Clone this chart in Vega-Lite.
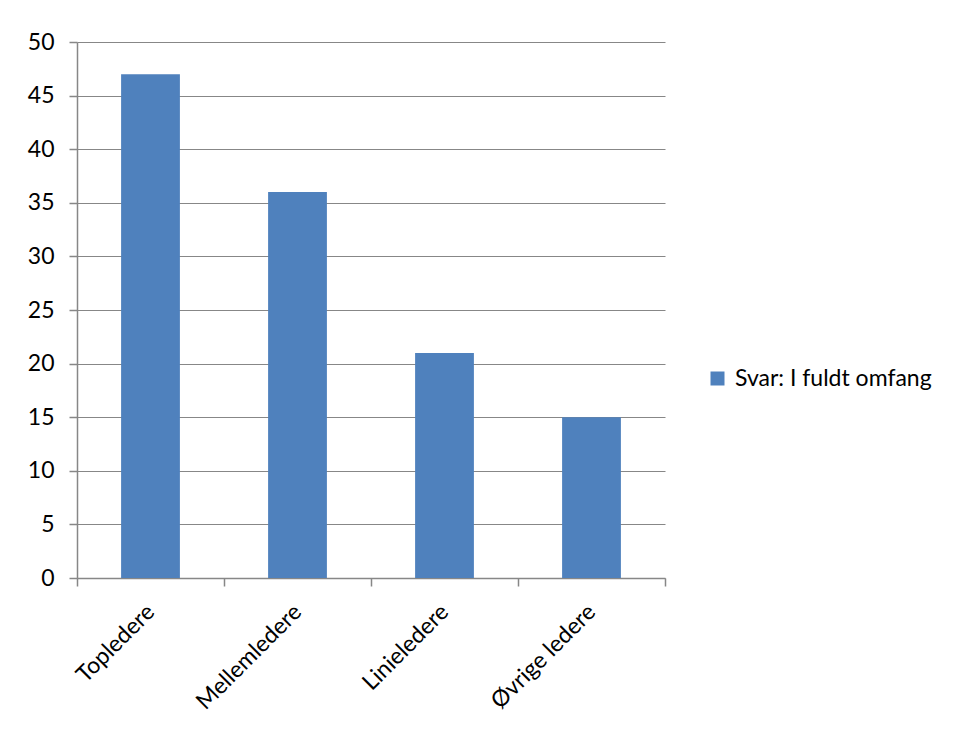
{
  "$schema": "https://vega.github.io/schema/vega-lite/v6.json",
  "autosize": "none",
  "width": 588,
  "height": 536,
  "padding": {"left": 77, "top": 42, "right": 292, "bottom": 160},
  "background": "white",
  "data": {
    "values": [
      {"kategori": "Topledere", "værdi": 47, "serie": "Svar: I fuldt omfang"},
      {"kategori": "Mellemledere", "værdi": 36, "serie": "Svar: I fuldt omfang"},
      {"kategori": "Linieledere", "værdi": 21, "serie": "Svar: I fuldt omfang"},
      {"kategori": "Øvrige ledere", "værdi": 15, "serie": "Svar: I fuldt omfang"}
    ]
  },
  "mark": {"type": "bar", "width": {"band": 0.4}},
  "encoding": {
    "x": {
      "field": "kategori",
      "type": "nominal",
      "sort": null,
      "scale": {"paddingInner": 0, "paddingOuter": 0},
      "axis": {
        "title": null,
        "labelAngle": -45,
        "labelAlign": "right",
        "labelBaseline": "middle",
        "labelPadding": 22,
        "tickBand": "extent",
        "tickSize": 8,
        "grid": false
      }
    },
    "y": {
      "field": "værdi",
      "type": "quantitative",
      "scale": {"domain": [0, 50], "nice": false},
      "axis": {
        "title": null,
        "values": [0, 5, 10, 15, 20, 25, 30, 35, 40, 45, 50],
        "tickSize": 8,
        "labelPadding": 15,
        "grid": true
      }
    },
    "color": {
      "field": "serie",
      "type": "nominal",
      "scale": {"range": ["#4F81BD"]},
      "legend": {
        "title": null,
        "orient": "none",
        "legendX": 629,
        "legendY": 325,
        "symbolType": "square",
        "symbolSize": 196,
        "symbolStrokeWidth": 0,
        "labelFontSize": 23,
        "labelFont": "Lato",
        "labelColor": "#000000",
        "labelOffset": 6,
        "labelLimit": 400
      }
    }
  },
  "config": {
    "view": {"stroke": null},
    "axis": {
      "domainColor": "#878787",
      "domainWidth": 1.5,
      "tickColor": "#878787",
      "tickWidth": 1.5,
      "gridColor": "#878787",
      "gridWidth": 1.2,
      "labelFont": "Lato",
      "labelFontSize": 23,
      "labelColor": "#000000"
    }
  }
}
